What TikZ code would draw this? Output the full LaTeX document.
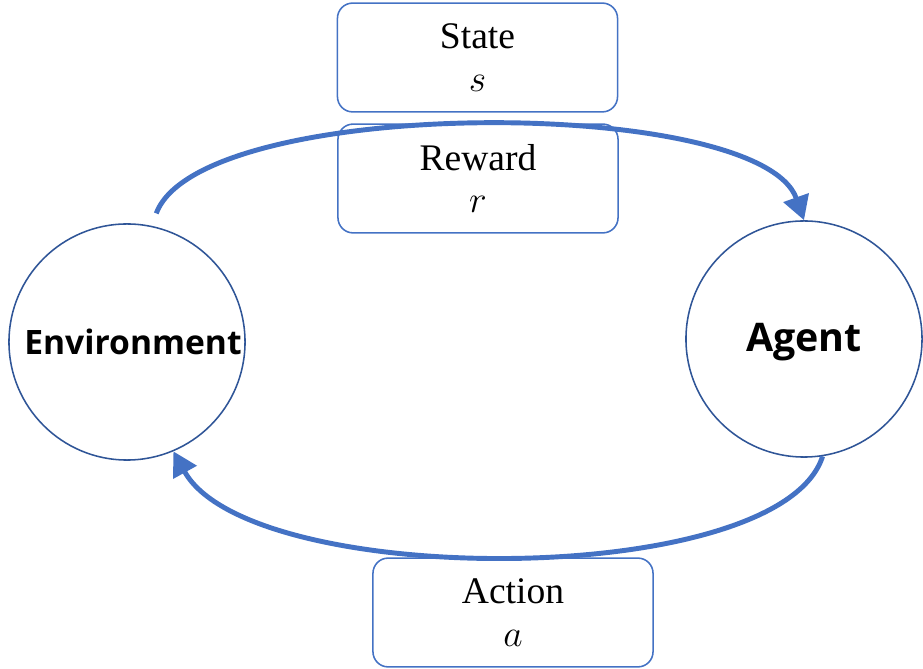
\RequirePackage{fix-cm}
\documentclass[tikz,border=0pt]{standalone}
\usepackage{fontspec}
\setmainfont{Liberation Serif}
\newfontfamily\labelfont{Open Sans}
\usepackage{tikz}
\usetikzlibrary{arrows.meta}
\definecolor{boxblue}{HTML}{4472C4}
\definecolor{ringblue}{HTML}{2F5597}
\tikzset{>={Triangle[length=0.6cm,width=0.65cm]}}
\tikzset{
  infobox/.style={draw=boxblue,line width=1.1pt,rounded corners=0.38cm,fill=white,
    minimum width=7.0cm,minimum height=2.72cm,align=center,inner sep=0pt,
    font=\fontsize{26.7}{30}\selectfont},
  party/.style={circle,draw=ringblue,line width=1.1pt,minimum size=5.9cm,inner sep=0pt},
  feedback/.style={draw=boxblue,line width=3.5pt,->}
}

\begin{document}
\begin{tikzpicture}[x=0.025cm,y=-0.025cm]
\useasboundingbox (0,0) rectangle (923,669);
\node[party] (env) at (127,342) {};
\node[font=\labelfont\bfseries\fontsize{23.9}{28}\selectfont] (envlabel) at (133,342) {Environment};
\node[party] (agent) at (804,339) {};
\node[font=\labelfont\bfseries\fontsize{28}{32}\selectfont] (agentlabel) at (804,342) {Agent};
\node[infobox] (state) at (477.5,57.5) {State\\$s$};
\node[infobox] (reward) at (478,178.5) {Reward\\$r$};
\node[infobox] (action) at (513,612.5) {Action\\$a$};
% state and reward go to the agent
\draw[feedback,shorten <=0.33cm] (env.78) .. controls (200,95) and (760,95) .. (agent.north);
% action goes back
\draw[feedback] (agent.-81) .. controls (780,590) and (250,590) .. (env.-67);
\end{tikzpicture}
\end{document}
